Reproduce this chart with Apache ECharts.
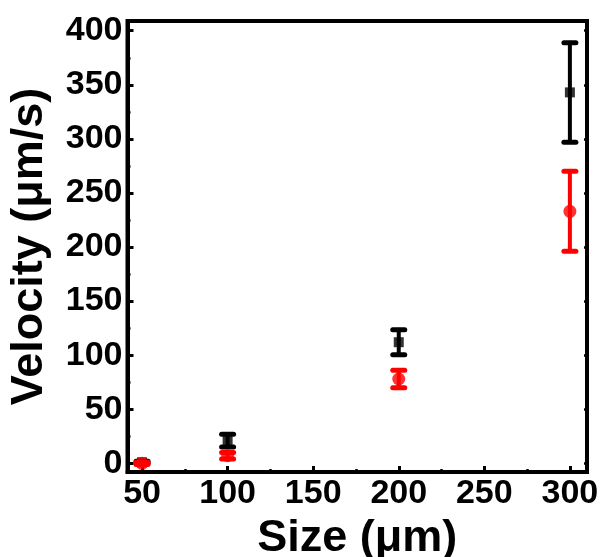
<!DOCTYPE html>
<html>
<head>
<meta charset="utf-8">
<script src="https://cdn.jsdelivr.net/npm/echarts@6/dist/echarts.min.js"></script>
<style>
html, body { margin: 0; padding: 0; background: #fff; }
#main { width: 602px; height: 557px; }
</style>
</head>
<body>
<div id="main"></div>
<script>
// sizes (um)
var sizes = [50, 100, 200, 300];
// black squares: mean and error
var blackMean = [1, 21, 112, 343];
var blackErr = [1, 6, 11.5, 46];
// red circles: mean and error
var redMean = [0, 7, 78, 233];
var redErr = [1, 3, 8, 37];

var xTicks = [50, 100, 150, 200, 250, 300];
var xMinor = [75, 125, 175, 225, 275];
var yTicks = [0, 50, 100, 150, 200, 250, 300, 350, 400];
var yMinor = [25, 75, 125, 175, 225, 275, 325, 375];

var font = "'Liberation Sans', Arial, sans-serif";

function pts(means) {
    return sizes.map(function (s, i) { return [s, means[i]]; });
}
function bars(means, errs) {
    return sizes.map(function (s, i) { return [s, means[i] - errs[i], means[i] + errs[i]]; });
}

function errRender(color) {
    return function (params, api) {
        var lo = api.coord([api.value(0), api.value(1)]);
        var hi = api.coord([api.value(0), api.value(2)]);
        var w = 6;
        var st = { stroke: color, lineWidth: 4, lineCap: 'round' };
        var cap = { stroke: color, lineWidth: 5, lineCap: 'round' };
        return {
            type: 'group',
            children: [
                { type: 'line', shape: { x1: lo[0], y1: lo[1], x2: hi[0], y2: hi[1] }, style: st },
                { type: 'line', shape: { x1: lo[0] - w, y1: lo[1], x2: lo[0] + w, y2: lo[1] }, style: cap },
                { type: 'line', shape: { x1: hi[0] - w, y1: hi[1], x2: hi[0] + w, y2: hi[1] }, style: cap }
            ]
        };
    };
}

var myChart = echarts.init(document.getElementById('main'));

var xMin = 41.5, xMax = 310;
var yMin = -8, yMax = 409;

var option = {
    animation: false,
    backgroundColor: '#fff',
    grid: {
        left: 127.5, right: 15, top: 21, bottom: 85,
        containLabel: false, outerBoundsMode: 'none',
        show: true, borderColor: '#000', borderWidth: 4
    },
    xAxis: [{
        type: 'value', min: xMin, max: xMax,
        name: 'Size (\u03bcm)', nameLocation: 'middle', nameGap: 33,
        nameTextStyle: { fontFamily: font, fontWeight: 'bold', fontSize: 45, color: '#000' },
        axisLine: { show: true, onZero: false, lineStyle: { color: '#000', width: 4 } },
        axisTick: { show: true, inside: true, length: 6, customValues: xTicks, lineStyle: { color: '#000', width: 3 } },
        axisLabel: { customValues: xTicks, margin: 5, fontFamily: font, fontWeight: 'bold', fontSize: 34, color: '#000' },
        splitLine: { show: false }
    }, {
        type: 'value', min: xMin, max: xMax, position: 'bottom',
        axisLine: { show: false, onZero: false },
        axisTick: { show: true, inside: true, length: 3, customValues: xMinor, lineStyle: { color: '#000', width: 2.5 } },
        axisLabel: { show: false },
        splitLine: { show: false }
    }],
    yAxis: [{
        type: 'value', min: yMin, max: yMax,
        name: 'Velocity (\u03bcm/s)', nameLocation: 'middle', nameGap: 75,
        nameTextStyle: { fontFamily: font, fontWeight: 'bold', fontSize: 45, color: '#000' },
        axisLine: { show: true, onZero: false, lineStyle: { color: '#000', width: 4 } },
        axisTick: { show: true, inside: true, length: 6, customValues: yTicks, lineStyle: { color: '#000', width: 3 } },
        axisLabel: { customValues: yTicks, margin: 5, fontFamily: font, fontWeight: 'bold', fontSize: 34, color: '#000' },
        splitLine: { show: false }
    }, {
        type: 'value', min: yMin, max: yMax, position: 'left',
        axisLine: { show: false, onZero: false },
        axisTick: { show: true, inside: true, length: 3, customValues: yMinor, lineStyle: { color: '#000', width: 2.5 } },
        axisLabel: { show: false },
        splitLine: { show: false }
    }, {
        type: 'value', min: yMin, max: yMax, position: 'right',
        axisLine: { show: false, onZero: false },
        axisTick: { show: true, inside: true, length: 3, customValues: yTicks, lineStyle: { color: '#000', width: 2.5 } },
        axisLabel: { show: false },
        splitLine: { show: false }
    }],
    series: [{
        type: 'custom', name: 'blackErr', renderItem: errRender('#000'),
        data: bars(blackMean, blackErr), z: 2
    }, {
        type: 'scatter', name: 'black', symbol: 'rect', symbolSize: 10,
        itemStyle: { color: '#000' }, data: pts(blackMean), z: 3
    }, {
        type: 'custom', name: 'redErr', renderItem: errRender('#f00'),
        data: bars(redMean, redErr), z: 4
    }, {
        type: 'scatter', name: 'red', symbol: 'circle', symbolSize: 13,
        itemStyle: { color: '#f00' }, data: pts(redMean), z: 5
    }]
};

myChart.setOption(option);
</script>
</body>
</html>
